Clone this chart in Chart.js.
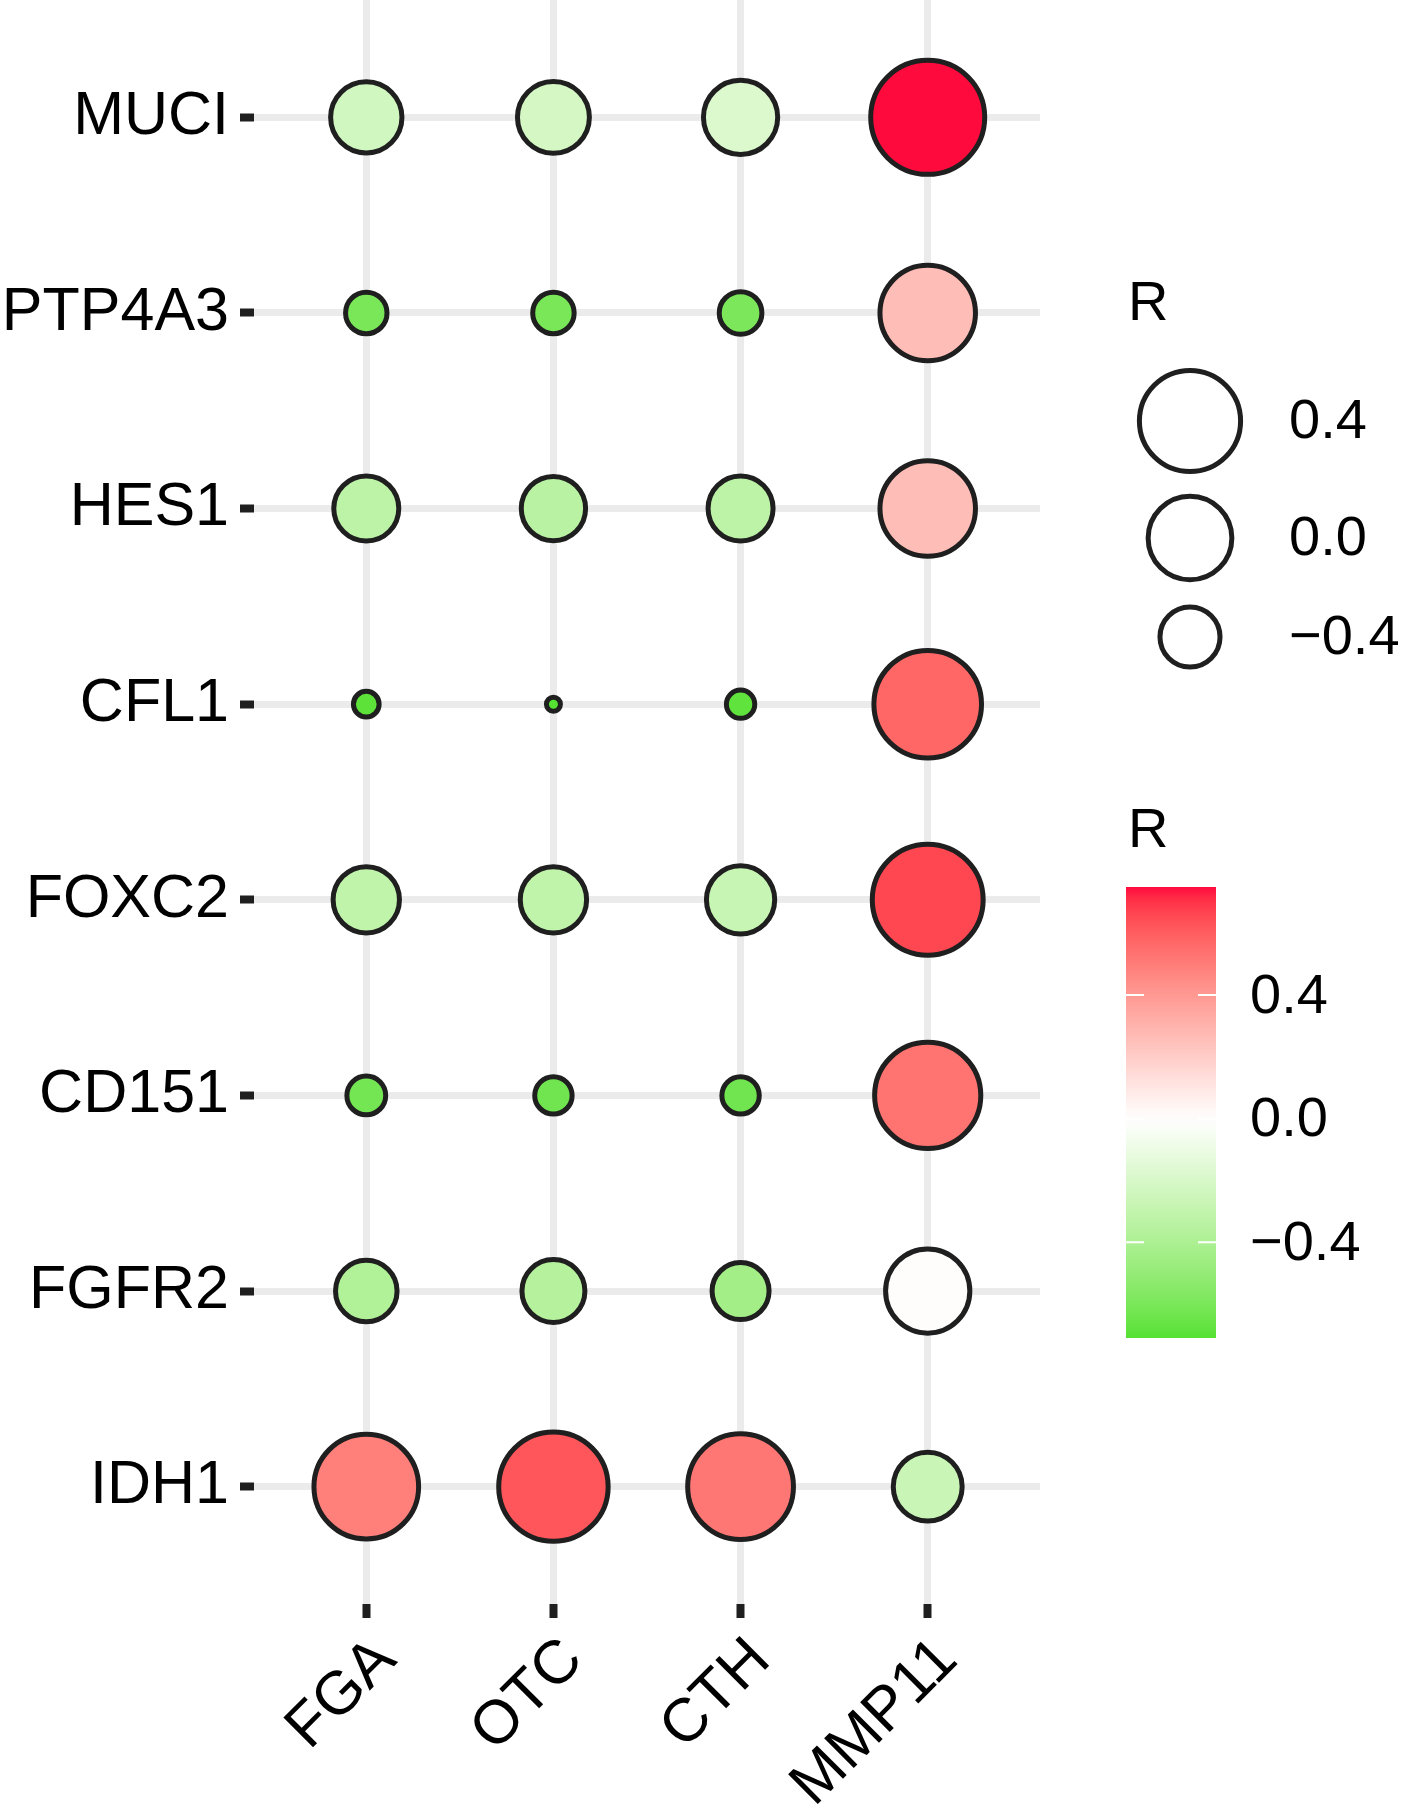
<!DOCTYPE html>
<html>
<head>
<meta charset="utf-8">
<script src="https://cdn.jsdelivr.net/npm/chart.js@4.4.1/dist/chart.umd.min.js"></script>
<style>
  html, body { margin: 0; padding: 0; background: #fff; }
  canvas { display: block; }
</style>
</head>
<body>
<canvas id="dots" width="1410" height="1810"></canvas>
<script>
// genes on the y axis (top to bottom) and markers on the x axis
const genes = ['MUCI', 'PTP4A3', 'HES1', 'CFL1', 'FOXC2', 'CD151', 'FGFR2', 'IDH1'];
const markers = ['FGA', 'OTC', 'CTH', 'MMP11'];

// correlation R per marker column, same order as genes
const fgaR   = [-0.23, -0.60, -0.33, -0.69, -0.31, -0.62, -0.38, 0.49];
const otcR   = [-0.22, -0.60, -0.34, -0.71, -0.31, -0.63, -0.36, 0.62];
const cthR   = [-0.18, -0.59, -0.33, -0.68, -0.28, -0.63, -0.44, 0.52];
const mmp11R = [ 0.75,  0.26,  0.26,  0.57,  0.66,  0.53,  0.01, -0.27];

// legend breaks
const sizeBreaks = [0.4, 0.0, -0.4];
const colorBreaks = [0.4, 0.0, -0.4];

const columns = [fgaR, otcR, cthR, mmp11R];
const allR = columns.flat();
const rMin = Math.min(...allR);
const rMax = Math.max(...allR);

const FONT = "'Liberation Sans', Arial, sans-serif";
const LOW = '#44df1e', MID = '#ffffff', HIGH = '#ff0a3d';

// --- colour helpers (interpolate in Lab like ggplot does) ---
function hexToRgb(h) { return [1, 3, 5].map(i => parseInt(h.slice(i, i + 2), 16)); }
function toLin(c) { c /= 255; return c <= 0.04045 ? c / 12.92 : Math.pow((c + 0.055) / 1.055, 2.4); }
function rgbToLab(rgb) {
  const r = toLin(rgb[0]), g = toLin(rgb[1]), b = toLin(rgb[2]);
  const x = (r * 0.4124 + g * 0.3576 + b * 0.1805) / 0.95047;
  const y = (r * 0.2126 + g * 0.7152 + b * 0.0722);
  const z = (r * 0.0193 + g * 0.1192 + b * 0.9505) / 1.08883;
  const f = t => t > 0.008856 ? Math.cbrt(t) : 7.787 * t + 16 / 116;
  return [116 * f(y) - 16, 500 * (f(x) - f(y)), 200 * (f(y) - f(z))];
}
function labToCss(lab) {
  const fy = (lab[0] + 16) / 116, fx = fy + lab[1] / 500, fz = fy - lab[2] / 200;
  const inv = t => t * t * t > 0.008856 ? t * t * t : (t - 16 / 116) / 7.787;
  const x = inv(fx) * 0.95047, y = inv(fy), z = inv(fz) * 1.08883;
  const r = x * 3.2406 - y * 1.5372 - z * 0.4986;
  const g = -x * 0.9689 + y * 1.8758 + z * 0.0415;
  const b = x * 0.0557 - y * 0.2040 + z * 1.0570;
  const gam = c => {
    c = c <= 0.0031308 ? 12.92 * c : 1.055 * Math.pow(c, 1 / 2.4) - 0.055;
    return Math.round(Math.min(1, Math.max(0, c)) * 255);
  };
  return `rgb(${gam(r)},${gam(g)},${gam(b)})`;
}
const lowLab = rgbToLab(hexToRgb(LOW)), midLab = rgbToLab(hexToRgb(MID)), highLab = rgbToLab(hexToRgb(HIGH));

function colorFor(v) {
  const m = Math.max(Math.abs(rMin), Math.abs(rMax));
  const p = v / m / 2 + 0.5;
  let a, b, t;
  if (p < 0.5) { a = lowLab; b = midLab; t = p / 0.5; }
  else { a = midLab; b = highLab; t = (p - 0.5) / 0.5; }
  return labToCss(a.map((c, i) => c + (b[i] - c) * t));
}

// outer radius in px, area scale (linear in sqrt of rescaled value)
function outerRadius(v) {
  const t = Math.max(0, (v - rMin) / (rMax - rMin));
  return 9.5 + 50 * Math.sqrt(t);
}

const BORDER = 5;
const points = [];
columns.forEach((col, ci) => {
  col.forEach((r, gi) => points.push({ x: ci, y: gi, r: r }));
});

// draws the rotated x labels and both legends
const extrasPlugin = {
  id: 'extras',
  afterDraw(chart) {
    const ctx = chart.ctx;
    const xs = chart.scales.x;
    const bottom = chart.chartArea.bottom;

    // rotated marker labels
    ctx.save();
    ctx.fillStyle = '#000';
    ctx.font = `61px ${FONT}`;
    ctx.textAlign = 'right';
    ctx.textBaseline = 'alphabetic';
    markers.forEach((m, i) => {
      const px = xs.getPixelForValue(i);
      ctx.save();
      ctx.translate(px + 32, bottom + 58);
      ctx.rotate(-Math.PI / 4);
      ctx.fillText(m, 0, 0);
      ctx.restore();
    });
    ctx.restore();

    // size legend
    ctx.save();
    ctx.fillStyle = '#000';
    ctx.font = `56px ${FONT}`;
    ctx.textAlign = 'left';
    ctx.textBaseline = 'alphabetic';
    ctx.fillText('R', 1128, 320);
    const sizeY = [421, 538, 637];
    sizeBreaks.forEach((v, i) => {
      ctx.beginPath();
      ctx.arc(1190, sizeY[i], outerRadius(v) - BORDER / 2, 0, Math.PI * 2);
      ctx.fillStyle = '#fff';
      ctx.fill();
      ctx.lineWidth = BORDER;
      ctx.strokeStyle = '#1f1f1f';
      ctx.stroke();
      ctx.fillStyle = '#000';
      ctx.textBaseline = 'middle';
      ctx.fillText(v.toFixed(1).replace('-', '\u2212'), 1289, sizeY[i] + 2);
    });
    ctx.restore();

    // colour bar legend
    const barL = 1126, barR = 1216, barT = 887, barB = 1338;
    const yFor = v => barT + (rMax - v) / (rMax - rMin) * (barB - barT);
    ctx.save();
    ctx.fillStyle = '#000';
    ctx.font = `56px ${FONT}`;
    ctx.textBaseline = 'alphabetic';
    ctx.fillText('R', 1128, 847);
    const grad = ctx.createLinearGradient(0, barT, 0, barB);
    for (let k = 0; k <= 40; k++) {
      const v = rMax - (rMax - rMin) * k / 40;
      grad.addColorStop(k / 40, colorFor(v));
    }
    ctx.fillStyle = grad;
    ctx.fillRect(barL, barT, barR - barL, barB - barT);
    ctx.strokeStyle = '#fff';
    ctx.lineWidth = 2;
    ctx.fillStyle = '#000';
    ctx.textBaseline = 'middle';
    colorBreaks.forEach(v => {
      const y = yFor(v);
      ctx.beginPath();
      ctx.moveTo(barL, y); ctx.lineTo(barL + 18, y);
      ctx.moveTo(barR - 18, y); ctx.lineTo(barR, y);
      ctx.stroke();
      ctx.fillText(v.toFixed(1).replace('-', '\u2212'), 1250, y + 2);
    });
    ctx.restore();
  }
};

const gridOpts = {
  color: '#ebebeb',
  lineWidth: 7,
  drawTicks: true,
  tickLength: 14,
  tickWidth: 8,
  tickColor: '#1f1f1f'
};

new Chart(document.getElementById('dots'), {
  type: 'scatter',
  data: {
    datasets: [{
      data: points,
      clip: false,
      pointRadius: c => outerRadius(c.raw.r) - BORDER / 2,
      pointHoverRadius: c => outerRadius(c.raw.r) - BORDER / 2,
      pointBackgroundColor: c => colorFor(c.raw.r),
      pointBorderColor: '#1f1f1f',
      pointBorderWidth: BORDER,
      pointHoverBorderWidth: BORDER
    }]
  },
  options: {
    responsive: false,
    animation: false,
    devicePixelRatio: 1,
    layout: { autoPadding: false, padding: { top: 0, right: 370, bottom: 0, left: 0 } },
    plugins: { legend: { display: false }, tooltip: { enabled: false } },
    scales: {
      x: {
        type: 'linear',
        min: -0.6,
        max: markers.length - 0.4,
        afterBuildTicks: s => { s.ticks = markers.map((_, i) => ({ value: i })); },
        afterFit: s => { s.height = 206; s.paddingLeft = 0; s.paddingRight = 0; },
        grid: gridOpts,
        border: { display: false },
        ticks: { display: false }
      },
      y: {
        type: 'linear',
        reverse: true,
        min: -0.6,
        max: genes.length - 0.4,
        afterBuildTicks: s => { s.ticks = genes.map((_, i) => ({ value: i })); },
        afterFit: s => { s.width = 254; s.paddingTop = 0; s.paddingBottom = 0; },
        grid: gridOpts,
        border: { display: false },
        ticks: {
          callback: v => genes[v],
          color: '#000',
          padding: 11,
          font: { family: FONT, size: 61 }
        }
      }
    }
  },
  plugins: [extrasPlugin]
});
</script>
</body>
</html>
